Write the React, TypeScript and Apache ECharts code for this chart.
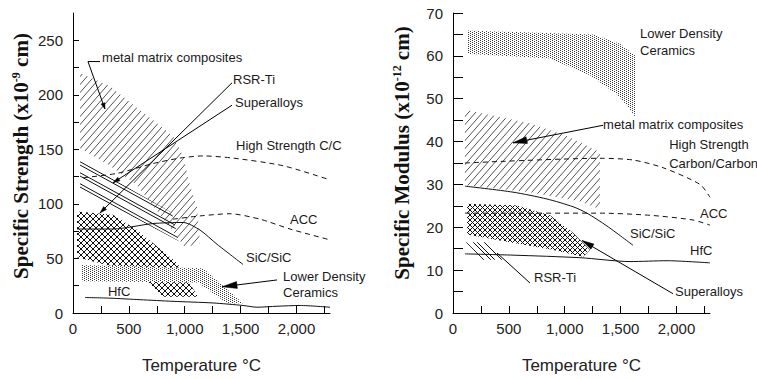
import React, { useEffect, useRef } from 'react';
import * as echarts from 'echarts';

// ---------- axes ----------
const X_TICKS = [0, 250, 500, 750, 1000, 1250, 1500, 1750, 2000, 2250];
const X_LABELS = [0, 500, 1000, 1500, 2000];
const STRENGTH_TICKS = [0, 25, 50, 75, 100, 125, 150, 175, 200, 225, 250];
const STRENGTH_LABELS = [0, 50, 100, 150, 200, 250];
const MODULUS_TICKS = [0, 5, 10, 15, 20, 25, 30, 35, 40, 45, 50, 55, 60, 65, 70];
const MODULUS_LABELS = [0, 10, 20, 30, 40, 50, 60, 70];

// ---------- left panel: specific strength (x10^-9 cm) ----------
const L_METAL_MATRIX = [[63, 220], [331, 208], [537, 191], [716, 177], [895, 162], [985, 144], [1047, 117], [1110, 97], [1137, 64], [1002, 60], [895, 75], [573, 117], [331, 135], [63, 151]];
const L_RSR_TI = [[63, 140], [886, 92], [945, 66], [63, 114]];
const L_SUPERALLOYS = [[36, 93], [358, 90], [573, 76], [931, 46], [1119, 15], [805, 15], [600, 36], [36, 51]];
const L_LOWER_DENSITY = [[81, 44], [1164, 41], [1522, 9], [1378, 9], [1119, 28], [81, 29]];
const L_HS_CC = [[90, 124], [394, 128], [716, 137], [958, 142], [1164, 144], [1432, 142], [1880, 135], [2300, 122]];
const L_ACC = [[895, 86], [1137, 89], [1405, 91], [1674, 86], [1942, 77], [2300, 67]];
const L_SIC = [[36, 77], [358, 77], [716, 82], [985, 83], [1137, 76], [1289, 63], [1522, 44.5]];
const L_HFC = [[107, 14.2], [331, 13.6], [600, 12.2], [895, 10.7], [1253, 9.2], [1522, 6.9], [1647, 5.3], [1826, 6.2], [2032, 6.9], [2300, 5.3]];

const L_LABEL_TEXT = ['metal matrix composites', 'RSR-Ti', 'Superalloys', 'High Strength C/C', 'ACC', 'SiC/SiC', 'Lower Density', 'Ceramics', 'HfC'];
const L_LABEL_POS = [[260, 234.5], [1432, 213.6], [1450, 193], [1459, 154], [1942, 86], [1548, 50.7], [1880, 33.8], [1880, 18.7], [313, 19.6]];

const L_LEAD_MMC = [[242, 230.5], [134, 230.5], [286, 187]];
const L_LEAD_RSR = [[1423, 211], [242, 91.7]];
const L_LEAD_SUPER = [[1423, 190.5], [358, 119.3]];
const L_LEAD_LDC = [[1826, 30.3], [1334, 24]];

// ---------- right panel: specific modulus (x10^-12 cm) ----------
const R_LOWER_DENSITY = [[125, 65.9], [1253, 65.0], [1495, 62.8], [1629, 60.1], [1629, 45.8], [1566, 48.1], [1468, 51.0], [1226, 55.5], [868, 59.4], [125, 60.5]];
const R_METAL_MATRIX = [[107, 47.4], [689, 44.3], [1020, 41.3], [1316, 37.5], [1316, 24.2], [1137, 26.0], [689, 28.2], [107, 29.8]];
const R_SUPERALLOYS = [[125, 25.5], [573, 25.1], [868, 22.8], [1074, 18.7], [1226, 14.7], [1164, 13.1], [868, 14.9], [421, 16.9], [125, 18.3]];
const R_RSR_TI = [[116, 16.5], [295, 16.5], [448, 12.4], [269, 12.4]];
const R_HS_CC = [[107, 35], [1316, 36.1], [1611, 35.7], [1880, 33.9], [2211, 30], [2300, 27]];
const R_ACC = [[107, 23.3], [1316, 23.3], [1763, 22.8], [2148, 21.7], [2300, 20.5]];
const R_SIC = [[107, 29.6], [537, 28.2], [841, 26.6], [1074, 24.8], [1199, 23.3], [1378, 20.3], [1611, 15.8]];
const R_HFC = [[107, 13.8], [537, 13.5], [1137, 12.9], [1584, 12.0], [1915, 12.2], [2300, 11.7]];

const R_LABEL_TEXT = ['Lower Density', 'Ceramics', 'metal matrix composites', 'High Strength', 'Carbon/Carbon', 'ACC', 'SiC/SiC', 'HfC', 'RSR-Ti', 'Superalloys'];
const R_LABEL_POS = [[1674, 65.3], [1674, 61.2], [1343, 44.0], [1935, 39.3], [1935, 35.0], [2211, 23.3], [1584, 18.5], [2121, 14.7], [725, 8.4], [1987, 5.0]];

const R_LEAD_MMC = [[1343, 43.8], [537, 39.7]];
const R_LEAD_SUPER = [[1969, 4.5], [1155, 16.9]];
const R_LEAD_RSR = [[689, 7.0], [394, 14.0]];

const SANS = '"Liberation Sans", Arial, Helvetica, sans-serif';
const SERIF = '"Liberation Serif", "Times New Roman", Times, serif';
const INK = '#1a1a1a';

function hatchCanvas(w: number, h: number, dirs: string[], offsets: number[], color: string, bg?: string) {
  const c = document.createElement('canvas');
  c.width = w;
  c.height = h;
  const ctx = c.getContext('2d')!;
  if (bg) {
    ctx.fillStyle = bg;
    ctx.fillRect(0, 0, w, h);
  }
  ctx.strokeStyle = color;
  ctx.lineWidth = 1;
  for (const d of dirs) {
    for (const o of offsets) {
      for (let k = -2; k <= 2; k++) {
        ctx.beginPath();
        if (d === '/') {
          ctx.moveTo(o + k * w - w, 2 * h);
          ctx.lineTo(o + k * w + 2 * w, -h);
        } else {
          ctx.moveTo(o + k * w - w, -h);
          ctx.lineTo(o + k * w + 2 * w, 2 * h);
        }
        ctx.stroke();
      }
    }
  }
  return { image: c, repeat: 'repeat', imageWidth: w, imageHeight: h };
}

function stippleCanvas() {
  const c = document.createElement('canvas');
  c.width = 4;
  c.height = 2;
  const ctx = c.getContext('2d')!;
  ctx.fillStyle = '#ffffff';
  ctx.fillRect(0, 0, 4, 2);
  ctx.fillStyle = '#3a3a3a';
  ctx.fillRect(0, 0, 1, 1);
  ctx.fillRect(2, 1, 1, 1);
  return { image: c, repeat: 'repeat', imageWidth: 4, imageHeight: 2 };
}

function regionSeries(grid: number, verts: number[][], fill: any, z: number) {
  return {
    type: 'custom',
    coordinateSystem: 'cartesian2d',
    xAxisIndex: grid,
    yAxisIndex: grid,
    data: verts,
    silent: true,
    z,
    renderItem: (params: any, api: any) => {
      if (params.dataIndex !== 0) return null;
      return {
        type: 'polygon',
        shape: { points: verts.map((p) => api.coord(p)) },
        style: { fill, stroke: null },
      };
    },
  };
}

function lineSeries(grid: number, data: number[][], dashed: boolean) {
  return {
    type: 'line',
    xAxisIndex: grid,
    yAxisIndex: grid,
    data,
    symbol: 'none',
    smooth: 0.25,
    silent: true,
    z: 6,
    lineStyle: { color: '#111', width: 1, type: dashed ? [5, 4] : 'solid' },
  };
}

function leaderSeries(grid: number, pts: number[][], arrowLen: number, arrowW: number) {
  return {
    type: 'custom',
    coordinateSystem: 'cartesian2d',
    xAxisIndex: grid,
    yAxisIndex: grid,
    data: pts,
    silent: true,
    z: 8,
    renderItem: (params: any, api: any) => {
      if (params.dataIndex !== 0) return null;
      const px = pts.map((p) => api.coord(p));
      const children: any[] = [
        { type: 'polyline', shape: { points: px }, style: { stroke: '#000', lineWidth: 1, fill: null } },
      ];
      if (arrowLen > 0) {
        const P = px[px.length - 1];
        const Q = px[px.length - 2];
        const dx = P[0] - Q[0];
        const dy = P[1] - Q[1];
        const L = Math.hypot(dx, dy) || 1;
        const ux = dx / L;
        const uy = dy / L;
        const bx = P[0] - ux * arrowLen;
        const by = P[1] - uy * arrowLen;
        children.push({
          type: 'polygon',
          shape: {
            points: [P, [bx - (uy * arrowW) / 2, by + (ux * arrowW) / 2], [bx + (uy * arrowW) / 2, by - (ux * arrowW) / 2]],
          },
          style: { fill: '#000', stroke: '#000', lineWidth: 0.5 },
        });
      }
      return { type: 'group', children };
    },
  };
}

function labelSeries(grid: number, pos: number[][], texts: string[]) {
  return {
    type: 'custom',
    coordinateSystem: 'cartesian2d',
    xAxisIndex: grid,
    yAxisIndex: grid,
    data: pos,
    silent: true,
    z: 9,
    renderItem: (params: any, api: any) => {
      const p = api.coord([api.value(0), api.value(1)]);
      return {
        type: 'text',
        x: p[0],
        y: p[1],
        style: {
          text: texts[params.dataIndex],
          fill: INK,
          font: '13px ' + SANS,
          align: 'left',
          verticalAlign: 'middle',
          textAlign: 'left',
          textVerticalAlign: 'middle',
        },
      };
    },
  };
}

function xAxis(grid: number) {
  return {
    type: 'value',
    gridIndex: grid,
    min: 0,
    max: 2300,
    interval: 250,
    axisLine: { show: true, lineStyle: { color: '#000', width: 1 } },
    axisTick: { show: true, inside: true, length: 7, lineStyle: { color: '#000' }, customValues: X_TICKS },
    axisLabel: {
      show: true,
      margin: 8,
      fontSize: 15,
      fontFamily: SANS,
      color: '#222',
      customValues: X_LABELS,
      formatter: (v: number) => (v % 500 === 0 ? v.toLocaleString('en-US') : ''),
    },
    splitLine: { show: false },
    name: 'Temperature °C',
    nameLocation: 'middle',
    nameGap: 44,
    nameTextStyle: { fontSize: 17, fontFamily: SANS, color: '#222' },
  };
}

function yAxis(grid: number, max: number, interval: number, ticks: number[], labels: number[], tickLen: number) {
  return {
    type: 'value',
    gridIndex: grid,
    min: 0,
    max,
    interval,
    axisLine: { show: true, lineStyle: { color: '#000', width: 1 } },
    axisTick: { show: true, inside: true, length: tickLen, lineStyle: { color: '#000' }, customValues: ticks },
    axisLabel: {
      show: true,
      margin: 10,
      fontSize: 15,
      fontFamily: SANS,
      color: '#222',
      customValues: labels,
      formatter: (v: number) => (labels.indexOf(v) >= 0 ? String(v) : ''),
    },
    splitLine: { show: false },
  };
}

function yTitle(x: number, y: number, main: string, sup: string) {
  const base = { fontFamily: SERIF, fontWeight: 'bold', fill: '#111' };
  return {
    type: 'text',
    x,
    y,
    rotation: Math.PI / 2,
    silent: true,
    style: {
      text: '{a|' + main + '}{s|' + sup + '}{a| cm)}',
      align: 'center',
      verticalAlign: 'middle',
      textAlign: 'center',
      textVerticalAlign: 'middle',
      rich: {
        a: { ...base, fontSize: 21, lineHeight: 23 },
        s: { ...base, fontSize: 12, verticalAlign: 'top', lineHeight: 12 },
      },
    },
  };
}

export default function App() {
  const ref = useRef<HTMLDivElement>(null);

  useEffect(() => {
    if (!ref.current) return;
    const chart = echarts.init(ref.current, null, { renderer: 'svg' });

    const mmcHatch = hatchCanvas(7, 8, ['/'], [0], '#555');
    const rsrHatchL = hatchCanvas(20, 11, ['\\'], [0, 6], '#111');
    const rsrHatchR = hatchCanvas(11, 11, ['\\'], [0, 4], '#111');
    const crossL = hatchCanvas(6, 6, ['/', '\\'], [0], '#111');
    const crossR = hatchCanvas(5, 5, ['/', '\\'], [0], '#111');
    const stipple = stippleCanvas();

    const option: any = {
      animation: false,
      backgroundColor: '#ffffff',
      grid: [
        { left: 73, top: 13, width: 257, height: 309 },
        { left: 453, top: 13, width: 257, height: 310 },
      ],
      xAxis: [xAxis(0), xAxis(1)],
      yAxis: [
        yAxis(0, 275, 25, STRENGTH_TICKS, STRENGTH_LABELS, 6),
        yAxis(1, 70, 5, MODULUS_TICKS, MODULUS_LABELS, 10),
      ],
      graphic: [
        yTitle(21, 156, 'Specific Strength (x10', '-9'),
        yTitle(402, 153, 'Specific Modulus (x10', '-12'),
      ],
      series: [
        // left panel regions
        regionSeries(0, L_METAL_MATRIX, mmcHatch, 1),
        regionSeries(0, L_RSR_TI, rsrHatchL, 2),
        regionSeries(0, L_SUPERALLOYS, crossL, 3),
        regionSeries(0, L_LOWER_DENSITY, stipple, 4),
        // left panel curves
        lineSeries(0, L_HS_CC, true),
        lineSeries(0, L_ACC, true),
        lineSeries(0, L_SIC, false),
        lineSeries(0, L_HFC, false),
        // left annotations
        leaderSeries(0, L_LEAD_MMC, 6, 4),
        leaderSeries(0, L_LEAD_RSR, 7, 4),
        leaderSeries(0, L_LEAD_SUPER, 7, 4),
        leaderSeries(0, L_LEAD_LDC, 15, 7),
        labelSeries(0, L_LABEL_POS, L_LABEL_TEXT),
        // right panel regions
        regionSeries(1, R_LOWER_DENSITY, stipple, 1),
        regionSeries(1, R_METAL_MATRIX, mmcHatch, 1),
        regionSeries(1, R_SUPERALLOYS, crossR, 3),
        regionSeries(1, R_RSR_TI, rsrHatchR, 3),
        // right panel curves
        lineSeries(1, R_HS_CC, true),
        lineSeries(1, R_ACC, true),
        lineSeries(1, R_SIC, false),
        lineSeries(1, R_HFC, false),
        // right annotations
        leaderSeries(1, R_LEAD_MMC, 14, 7),
        leaderSeries(1, R_LEAD_SUPER, 12, 6),
        leaderSeries(1, R_LEAD_RSR, 0, 0),
        labelSeries(1, R_LABEL_POS, R_LABEL_TEXT),
      ],
    };

    chart.setOption(option);
    return () => chart.dispose();
  }, []);

  return (
    <div
      ref={ref}
      style={{ position: 'fixed', left: 0, top: 0, width: 757, height: 379, background: '#fff' }}
    />
  );
}
